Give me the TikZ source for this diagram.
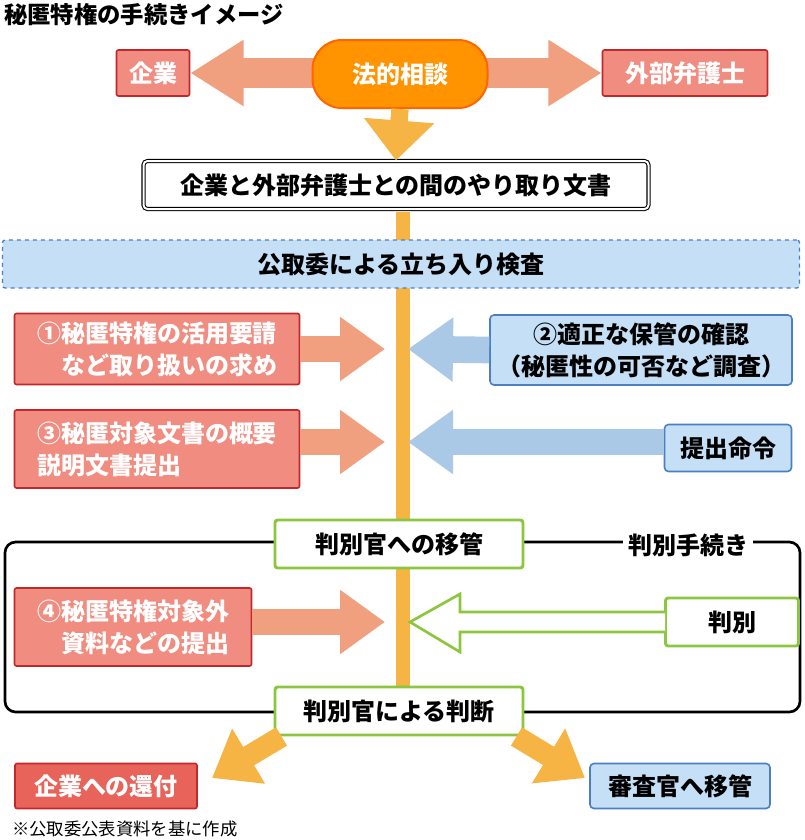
\documentclass[tikz,border=0pt]{standalone}
\usepackage{fontspec}
\setmainfont{Noto Sans CJK JP}
\usetikzlibrary{arrows.meta}
\definecolor{salm}{HTML}{F0A07F}
\definecolor{rbox}{HTML}{F08C80}
\definecolor{rret}{HTML}{E8635A}
\definecolor{rdark}{HTML}{C0282C}
\definecolor{lblue}{HTML}{A9C9E6}
\definecolor{bbox}{HTML}{C4DFF6}
\definecolor{bdark}{HTML}{4C7FC0}
\definecolor{orng}{HTML}{F5B444}
\definecolor{gr}{HTML}{8CC63E}
\begin{document}
\begin{tikzpicture}[x=0.75pt,y=-0.75pt,
 every node/.style={font=\bfseries\fontsize{18}{21}\selectfont,align=center,inner sep=0},
 two/.style={font=\bfseries\fontsize{18}{24}\selectfont},
 red/.style={draw=rdark,line width=1.2pt,fill=rbox,text=white,rounded corners=1.5pt},
 blue/.style={draw=bdark,line width=1.2pt,fill=bbox,rounded corners=3pt},
 grn/.style={draw=gr,line width=2.2pt,fill=white,rounded corners=2pt},
 sarrow/.style={draw=salm,line width=20pt,-{Triangle[length=33.75pt,width=46pt]}},
 barrow/.style={draw=lblue,line width=20pt,-{Triangle[length=33.75pt,width=46pt]}},
 oarrow/.style={draw=orng,line width=20pt,-{Triangle[length=36pt,width=50pt]}}]
\useasboundingbox (0,0) rectangle (805,840);
\node[anchor=west,font=\bfseries\fontsize{17.5}{20}\selectfont] (title) at (4,15) {秘匿特権の手続きイメージ};
% bracket frame
\draw[line width=2pt,rounded corners=8pt] (5,542) rectangle (800,712);
% vertical line
\coordinate (vt) at (403,212); \coordinate (vb) at (403,700);
\draw[orng,line width=11pt] (vt) -- (vb);
% top
\node[red,minimum width=54.75pt,minimum height=34.5pt] (kig) at (153,73) {企業};
\node[red,minimum width=123.75pt,minimum height=34.5pt] (law) at (685,73) {外部弁護士};
\draw[sarrow,line width=23pt,-{Triangle[length=40pt,width=47pt]}] (400,73) -- (kig.east);
\draw[sarrow,line width=23pt,-{Triangle[length=40pt,width=47pt]}] (400,73) -- (law.west);
\node[draw=orange!80!red,line width=1.5pt,fill=orange!85!yellow,text=white,rounded corners=22pt,minimum width=131.25pt,minimum height=51pt] (con) at (400,74) {法的相談};
\node[draw,double,double distance=1.5pt,line width=0.8pt,rounded corners=3pt,fill=white,minimum width=378.75pt,minimum height=36pt] (doc) at (396,185) {企業と外部弁護士との間のやり取り文書};
\draw[oarrow,line width=13pt,-{Triangle[length=30pt,width=51pt]}] (con.south) -- (doc.north);
\node[draw=bdark,dashed,line width=1pt,fill=bbox,rounded corners=2pt,minimum width=597.75pt,minimum height=36pt] (insp) at (401,264) {公取委による立ち入り検査};
% row 1
\node[red,two,minimum width=213.75pt,minimum height=53.25pt] (r1) at (157,349) {①秘匿特権の活用要請\\\hspace*{1em}など取り扱いの求め};
\coordinate (t1) at (385,349);
\draw[sarrow] (r1.east) -- (t1);
\node[blue,two,minimum width=226.5pt,minimum height=52.5pt] (b1) at (641,350) {②適正な保管の確認\\（秘匿性の可否など調査）};
\coordinate (u1) at (408,349);
\draw[barrow] (b1.west) -- (u1);
% row 2
\node[red,two,minimum width=213.75pt,minimum height=58.5pt] (r2) at (157,449) {③秘匿対象文書の概要\\\hspace*{-4em}説明文書提出};
\coordinate (t2) at (385,442);
\draw[sarrow] (r2.east|-t2) -- (t2);
\node[blue,minimum width=95.25pt,minimum height=35.25pt] (b2) at (728,448) {提出命令};
\coordinate (u2) at (408,442);
\draw[barrow] (b2.west|-u2) -- (u2);
% judging
\node[grn,minimum width=186pt,minimum height=36pt] (tr) at (399,544) {判別官への移管};
\node[fill=white,inner xsep=4pt,inner ysep=3pt] (proc) at (688,545) {判別手続き};
\node[red,two,minimum width=177.75pt,minimum height=58.5pt] (r4) at (133,627) {④秘匿特権対象外\\\hspace*{1em}資料などの提出};
\coordinate (t4) at (385,622);
\draw[sarrow] (r4.east|-t4) -- (t4);
\node[grn,minimum width=99.75pt,minimum height=36pt] (jb) at (732,622) {判別};
\coordinate (u4) at (410,622);
\coordinate (h1) at (665,612); \coordinate (h2) at (665,632);
\draw[draw=gr,line width=2pt,fill=white,line join=miter] (h1) -- (460,612) -- (460,594) -- (u4) -- (460,652) -- (460,632) -- (h2);
\node[grn,minimum width=186pt,minimum height=36pt] (dec) at (399,711) {判別官による判断};
% results
\node[red,fill=rret,minimum width=136.5pt,minimum height=33.75pt] (ret) at (106,786) {企業への還付};
\node[blue,minimum width=135pt,minimum height=33.75pt] (exa) at (680,786) {審査官へ移管};
\coordinate (lt) at (212,778); \coordinate (rt) at (585,778);
\draw[oarrow,line width=16pt,-{Triangle[length=32pt,width=46pt]}] (dec.south west) ++(8,0) -- (lt);
\draw[oarrow,line width=16pt,-{Triangle[length=32pt,width=46pt]}] (dec.south east) ++(-8,0) -- (rt);
\node[anchor=west,font=\fontsize{13}{15}\selectfont] (note) at (12,829) {※公取委公表資料を基に作成};
\end{tikzpicture}
\end{document}
